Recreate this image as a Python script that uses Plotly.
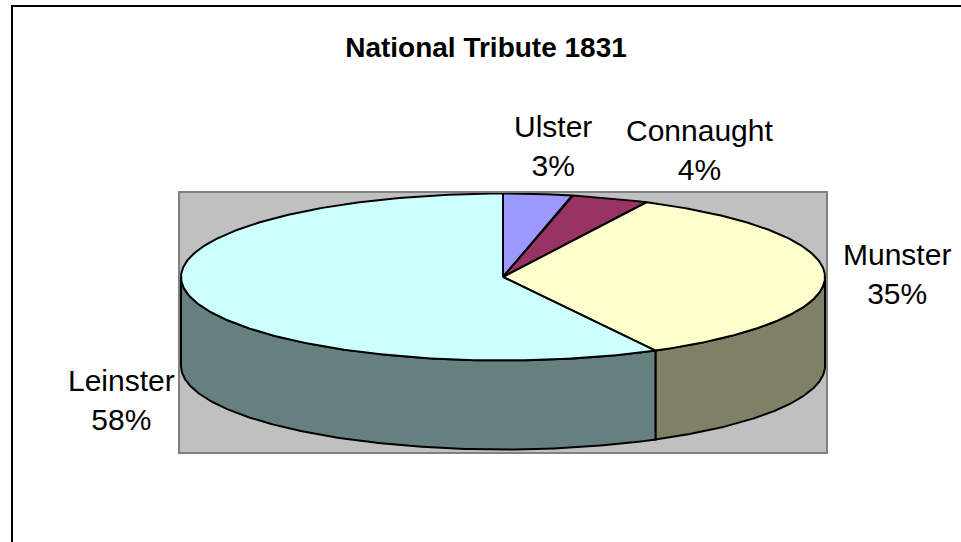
import numpy as np
import plotly.graph_objects as go

# ---- data ----
regions = ["Ulster", "Connaught", "Munster", "Leinster"]
values = [3.45, 3.9, 34.8, 57.85]
top_colors = ["#9999FF", "#993366", "#FFFFCC", "#CCFFFF"]
side_colors = ["#4D4D80", "#4D1A33", "#808066", "#668080"]
title_text = "National Tribute 1831"

# ---- geometry (pixel-like units of the plot area) ----
CX, CY, RX, RY, DEPTH = 503.0, 277.0, 322.0, 83.5, 89.0

def pt(theta, dy=0.0):
    return CX + RX * np.sin(theta), CY - RY * np.cos(theta) + dy

total = float(sum(values))
fracs = [v / total for v in values]
bounds = np.concatenate([[0.0], np.cumsum(fracs)]) * 2 * np.pi

fig = go.Figure()
line = dict(color="black", width=2)

# side walls (front half only: theta in [pi/2, 3pi/2])
for i in range(len(values)):
    a, b = max(bounds[i], np.pi / 2), min(bounds[i + 1], 3 * np.pi / 2)
    if b <= a:
        continue
    t = np.linspace(a, b, 200)
    xt, yt = pt(t)
    xb, yb = pt(t[::-1], DEPTH)
    fig.add_trace(go.Scatter(
        x=np.concatenate([xt, xb, xt[:1]]), y=np.concatenate([yt, yb, yt[:1]]),
        mode="lines", fill="toself", fillcolor=side_colors[i], line=line,
        hoverinfo="skip", showlegend=False))

# top faces
for i in range(len(values)):
    t = np.linspace(bounds[i], bounds[i + 1], 300)
    xa, ya = pt(t)
    fig.add_trace(go.Scatter(
        x=np.concatenate([[CX], xa, [CX]]), y=np.concatenate([[CY], ya, [CY]]),
        mode="lines", fill="toself", fillcolor=top_colors[i], line=line,
        name=regions[i], hoverinfo="name", showlegend=False))

W, H = 961, 542
L, R, T, B = 180, 826, 193, 452

# labels (positions in page pixels, converted to paper coordinates)
label_pos = {"Ulster": (553, 146), "Connaught": (699, 150),
             "Munster": (897, 274), "Leinster": (121, 400)}
for name, v in zip(regions, values):
    px, py = label_pos[name]
    fig.add_annotation(x=(px - L) / (R - L), y=(B - py) / (B - T),
                       xref="paper", yref="paper", showarrow=False,
                       text=f"{name}<br>{round(100 * v / total)}%",
                       font=dict(size=30, color="black"), align="center",
                       xanchor="center", yanchor="middle")

fig.update_layout(
    width=W, height=H,
    margin=dict(l=L, r=W - R, t=T, b=H - B, pad=0),
    paper_bgcolor="white", plot_bgcolor="#C0C0C0",
    font=dict(family="Arial, Liberation Sans, sans-serif", color="black"),
    title=dict(text=f"<b>{title_text}</b>", x=486 / W, xanchor="center",
               y=1 - 47 / H, yanchor="middle", xref="container", yref="container",
               font=dict(size=28, color="black")),
    xaxis=dict(range=[L, R], showgrid=False, zeroline=False,
               showticklabels=False, ticks="", showline=True, mirror=True,
               linecolor="#808080", linewidth=2, fixedrange=True),
    yaxis=dict(range=[B, T], showgrid=False, zeroline=False,
               showticklabels=False, ticks="", showline=True, mirror=True,
               linecolor="#808080", linewidth=2, fixedrange=True),
    shapes=[dict(type="rect", xref="paper", yref="paper",
                 x0=-(L - 12) / (R - L), x1=(W + 20 - L) / (R - L),
                 y0=-(H - B + 20) / (B - T), y1=(B - 6) / (B - T),
                 line=dict(color="black", width=2), fillcolor="rgba(0,0,0,0)",
                 layer="below")],
)
fig.write_html("out.html", config={"displayModeBar": False},
               post_script="document.body.style.margin='0';document.body.style.overflow='hidden';")
